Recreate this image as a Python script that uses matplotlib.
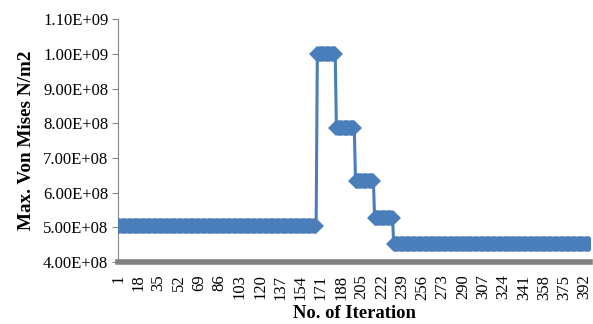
import numpy as np
import matplotlib
matplotlib.use('Agg')
import matplotlib.pyplot as plt
from matplotlib.ticker import FuncFormatter

# stress plateaus (iteration where each level starts)
step_start = [1, 168, 184, 200, 216, 232]
step_value = [5.05e8, 1.00e9, 7.85e8, 6.33e8, 5.27e8, 4.53e8]
n_iter = 396
tick_labels = list(range(1, 393, 17))

iters = np.arange(1, n_iter + 1)
stress = np.empty(n_iter)
bounds = step_start + [n_iter + 1]
for i, val in enumerate(step_value):
    stress[bounds[i] - 1:bounds[i + 1] - 1] = val

plt.rcParams['font.family'] = ['Liberation Serif', 'DejaVu Serif']

fig = plt.figure(figsize=(5.93, 3.24), dpi=100)
ax = fig.add_axes([0.199, 0.191, 0.796, 0.750])

ax.plot(iters, stress, '-', color='#4a7ebb', linewidth=2.2,
        marker='D', markersize=7.8, markeredgewidth=0, zorder=3)

ax.set_xlim(1, n_iter + 0.5)
ax.set_ylim(4.0e8, 1.1e9)
ax.set_yticks(np.arange(4.0e8, 1.15e9, 1.0e8))
ax.yaxis.set_major_formatter(FuncFormatter(lambda v, p: '%.2E' % v))
ax.set_xticks(tick_labels)
ax.set_xticklabels([str(t) for t in tick_labels], rotation=90)

ax.tick_params(axis='y', labelsize=12, length=4, color='#868686', pad=3)
ax.tick_params(axis='x', labelsize=12, length=0, pad=9)

for s in ('top', 'right'):
    ax.spines[s].set_visible(False)
ax.spines['left'].set_color('#868686')
ax.spines['left'].set_linewidth(0.8)
ax.spines['bottom'].set_color('#808080')
ax.spines['bottom'].set_linewidth(4)

ax.set_ylabel('Max. Von Mises N/m2', fontsize=13.8, fontweight='bold', labelpad=6)
ax.set_xlabel('No. of Iteration', fontsize=13.4, fontweight='bold', labelpad=4)

fig.savefig('out.png', dpi=100)
